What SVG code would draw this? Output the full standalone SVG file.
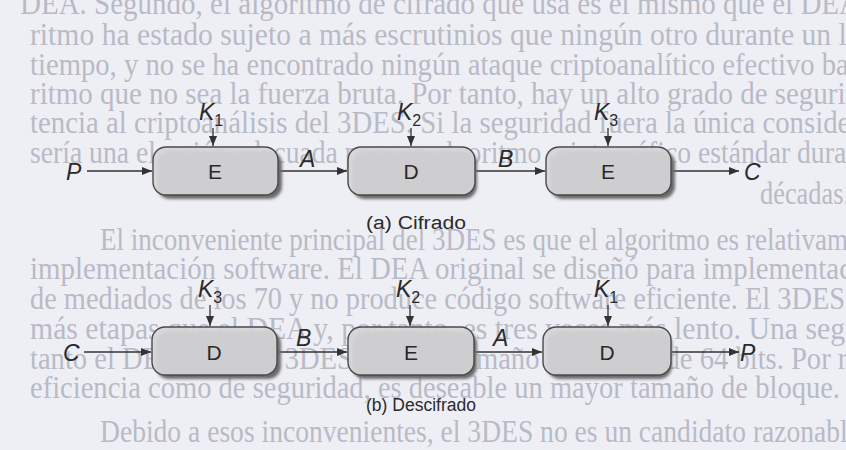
<svg xmlns="http://www.w3.org/2000/svg" width="846" height="450" viewBox="0 0 846 450">
<style>
.bg{font-family:"Liberation Serif","Times New Roman",serif;font-size:31px;fill:#b8bac6;}
.box{fill:#d6d6d9;fill-opacity:0.93;stroke:#4a4a4a;stroke-width:1.4;}
.shadow{fill:#6a6a6a;filter:url(#blur);}
.lbl{font-family:"Liberation Sans",Arial,sans-serif;font-size:21px;fill:#2a2a2a;text-anchor:middle;}
.it{font-family:"Liberation Sans",Arial,sans-serif;font-size:23px;font-style:italic;fill:#2a2a2a;}
.sub{font-size:16px;font-style:normal;}
.cap{font-family:"Liberation Sans",Arial,sans-serif;font-size:18px;fill:#2a2a2a;}
.ar{stroke:#333;stroke-width:1.3;fill:none;marker-end:url(#ah);}
</style>
<defs>
<filter id="blur" x="-10%" y="-20%" width="120%" height="140%"><feGaussianBlur stdDeviation="1.5"/></filter>
<marker id="ah" markerUnits="userSpaceOnUse" markerWidth="10" markerHeight="8" refX="10" refY="4" orient="auto"><path d="M0,0 L10,4 L0,8 z" fill="#333"/></marker>
</defs>
<rect width="846" height="450" fill="#eeeff5"/>
<g id="page-text">
<text class="bg" x="20" y="14" textLength="840" lengthAdjust="spacingAndGlyphs">DEA. Segundo, el algoritmo de cifrado que usa es el mismo que el DEA</text>
<text class="bg" x="30" y="45" textLength="830" lengthAdjust="spacingAndGlyphs">ritmo ha estado sujeto a más escrutinios que ningún otro durante un la</text>
<text class="bg" x="30" y="75" textLength="830" lengthAdjust="spacingAndGlyphs">tiempo, y no se ha encontrado ningún ataque criptoanalítico efectivo bas</text>
<text class="bg" x="30" y="104" textLength="830" lengthAdjust="spacingAndGlyphs">ritmo que no sea la fuerza bruta. Por tanto, hay un alto grado de segurid</text>
<text class="bg" x="30" y="133" textLength="830" lengthAdjust="spacingAndGlyphs">tencia al criptoanálisis del 3DES. Si la seguridad fuera la única consider</text>
<text class="bg" x="30" y="163" textLength="830" lengthAdjust="spacingAndGlyphs">sería una elección adecuada para un algoritmo criptográfico estándar duran</text>
<text class="bg" x="760" y="204" textLength="90" lengthAdjust="spacingAndGlyphs">décadas.</text>
<text class="bg" x="100" y="250" textLength="760" lengthAdjust="spacingAndGlyphs">El inconveniente principal del 3DES es que el algoritmo es relativame</text>
<text class="bg" x="30" y="279" textLength="830" lengthAdjust="spacingAndGlyphs">implementación software. El DEA original se diseñó para implementaci</text>
<text class="bg" x="30" y="309" textLength="830" lengthAdjust="spacingAndGlyphs">de mediados de los 70 y no produce código software eficiente. El 3DES t</text>
<text class="bg" x="30" y="339" textLength="830" lengthAdjust="spacingAndGlyphs">más etapas que el DEA y, por tanto, es tres veces más lento. Una segu</text>
<text class="bg" x="30" y="369" textLength="830" lengthAdjust="spacingAndGlyphs">tanto el DEA como el 3DES usan un tamaño de bloque de 64 bits. Por ra</text>
<text class="bg" x="30" y="398" textLength="810" lengthAdjust="spacingAndGlyphs">eficiencia como de seguridad, es deseable un mayor tamaño de bloque.</text>
<text class="bg" x="100" y="442" textLength="760" lengthAdjust="spacingAndGlyphs">Debido a esos inconvenientes, el 3DES no es un candidato razonable</text>
</g>
<g id="connectors">
<line class="ar" x1="87" y1="171" x2="152" y2="171"/>
<line class="ar" x1="279" y1="171" x2="347" y2="171"/>
<line class="ar" x1="476" y1="171" x2="545" y2="171"/>
<line class="ar" x1="672" y1="171" x2="739" y2="171"/>
<line class="ar" x1="213" y1="128" x2="213" y2="146"/>
<line class="ar" x1="411" y1="128" x2="411" y2="146"/>
<line class="ar" x1="608" y1="128" x2="608" y2="146"/>
<line class="ar" x1="84" y1="352" x2="151" y2="352"/>
<line class="ar" x1="278" y1="352" x2="347" y2="352"/>
<line class="ar" x1="475" y1="352" x2="542" y2="352"/>
<line class="ar" x1="672" y1="352" x2="739" y2="352"/>
<line class="ar" x1="210" y1="305" x2="210" y2="326"/>
<line class="ar" x1="410" y1="305" x2="410" y2="326"/>
<line class="ar" x1="608" y1="305" x2="608" y2="326"/>
</g>
<g id="labels">
<text class="it" x="66" y="180">P</text>
<text class="it" x="300" y="167">A</text>
<text class="it" x="498" y="167">B</text>
<text class="it" x="744" y="180">C</text>
<text class="it" x="199" y="120">K<tspan class="sub" dy="6">1</tspan></text>
<text class="it" x="397" y="120">K<tspan class="sub" dy="6">2</tspan></text>
<text class="it" x="594" y="120">K<tspan class="sub" dy="6">3</tspan></text>
<text class="cap" x="366" y="229" textLength="100" lengthAdjust="spacingAndGlyphs">(a) Cifrado</text>
<text class="it" x="63" y="361">C</text>
<text class="it" x="296" y="346">B</text>
<text class="it" x="493" y="346">A</text>
<text class="it" x="740" y="361">P</text>
<text class="it" x="198" y="297">K<tspan class="sub" dy="6">3</tspan></text>
<text class="it" x="396" y="297">K<tspan class="sub" dy="6">2</tspan></text>
<text class="it" x="594" y="297">K<tspan class="sub" dy="6">1</tspan></text>
<text class="cap" x="366" y="411" textLength="110" lengthAdjust="spacingAndGlyphs">(b) Descifrado</text>
</g>
<g id="enc-E1"><rect class="shadow" x="157" y="151" width="125" height="48" rx="13"/><rect class="box" x="153" y="147" width="125" height="48" rx="13"/><text class="lbl" x="215" y="179">E</text></g>
<g id="enc-D"><rect class="shadow" x="352" y="151" width="125" height="48" rx="13"/><rect class="box" x="348" y="147" width="127" height="48" rx="13"/><text class="lbl" x="411" y="179">D</text></g>
<g id="enc-E2"><rect class="shadow" x="550" y="151" width="125" height="48" rx="13"/><rect class="box" x="546" y="147" width="125" height="48" rx="13"/><text class="lbl" x="608" y="179">E</text></g>
<g id="dec-D1"><rect class="shadow" x="156" y="331" width="125" height="48" rx="13"/><rect class="box" x="152" y="327" width="125" height="48" rx="13"/><text class="lbl" x="214" y="360">D</text></g>
<g id="dec-E"><rect class="shadow" x="352" y="331" width="125" height="48" rx="13"/><rect class="box" x="348" y="327" width="126" height="48" rx="13"/><text class="lbl" x="411" y="360">E</text></g>
<g id="dec-D2"><rect class="shadow" x="547" y="331" width="125" height="48" rx="13"/><rect class="box" x="543" y="327" width="128" height="48" rx="13"/><text class="lbl" x="607" y="360">D</text></g>
</svg>
